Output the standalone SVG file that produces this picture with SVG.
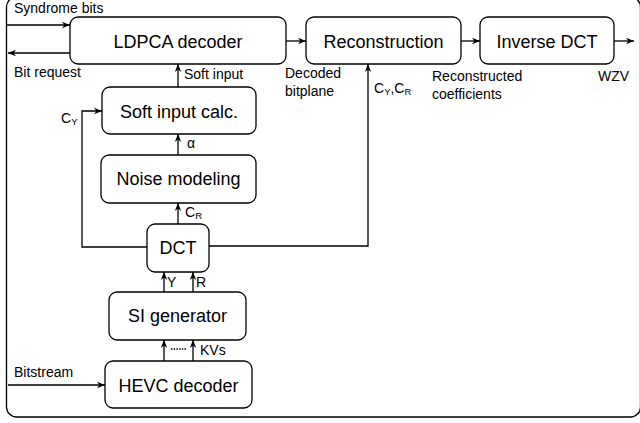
<svg xmlns="http://www.w3.org/2000/svg" width="640" height="423" viewBox="0 0 640 423">
<style>
.box{fill:#fff;stroke:#000;stroke-width:1.3}
.bt{font-family:"Liberation Sans",Arial,sans-serif;font-size:18px;text-anchor:middle;fill:#000}
.lb{font-family:"Liberation Sans",Arial,sans-serif;font-size:14px;fill:#000}
.sub{font-size:9.5px}
.ln{fill:none;stroke:#000;stroke-width:1.3}
</style>
<defs>
<marker id="ah" viewBox="0 0 10 10" refX="10" refY="5" markerWidth="8" markerHeight="8" markerUnits="userSpaceOnUse" orient="auto">
<path d="M0,1 L10,5 L0,9 L3,5 z" fill="#000"/>
</marker>
</defs>
<rect width="640" height="423" fill="#fff"/>
<rect x="6.5" y="-3" width="634" height="420" rx="10" class="ln"/>
<g id="connectors">
<line x1="7" y1="25" x2="70" y2="25" class="ln" marker-end="url(#ah)"/>
<line x1="70" y1="53" x2="8" y2="53" class="ln" marker-end="url(#ah)"/>
<line x1="286" y1="41" x2="306" y2="41" class="ln" marker-end="url(#ah)"/>
<line x1="461" y1="41" x2="480" y2="41" class="ln" marker-end="url(#ah)"/>
<line x1="614" y1="41" x2="634" y2="41" class="ln" marker-end="url(#ah)"/>
<line x1="178" y1="87" x2="178" y2="64" class="ln" marker-end="url(#ah)"/>
<line x1="178" y1="155" x2="178" y2="134" class="ln" marker-end="url(#ah)"/>
<line x1="178" y1="224" x2="178" y2="203" class="ln" marker-end="url(#ah)"/>
<polyline points="147,247 82,247 82,111 102,111" class="ln" marker-end="url(#ah)"/>
<polyline points="209,246 368,246 368,64" class="ln" marker-end="url(#ah)"/>
<line x1="164" y1="292" x2="164" y2="272" class="ln" marker-end="url(#ah)"/>
<line x1="193" y1="292" x2="193" y2="272" class="ln" marker-end="url(#ah)"/>
<line x1="164" y1="361" x2="164" y2="340" class="ln" marker-end="url(#ah)"/>
<line x1="193" y1="361" x2="193" y2="340" class="ln" marker-end="url(#ah)"/>
<line x1="171" y1="349" x2="187" y2="349" stroke="#000" stroke-width="1.3" stroke-dasharray="1.5,1.2"/>
<line x1="8" y1="385" x2="105" y2="385" class="ln" marker-end="url(#ah)"/>
</g>
<g id="ldpca"><rect x="70" y="17" width="216" height="47" rx="8" class="box"/><text x="178" y="48" class="bt">LDPCA decoder</text></g>
<g id="reconstruction"><rect x="306" y="17" width="155" height="47" rx="8" class="box"/><text x="383.5" y="48" class="bt">Reconstruction</text></g>
<g id="idct"><rect x="480" y="17" width="134" height="47" rx="8" class="box"/><text x="547" y="48" class="bt">Inverse DCT</text></g>
<g id="softinput"><rect x="102" y="87" width="154" height="47" rx="8" class="box"/><text x="179" y="118" class="bt">Soft input calc.</text></g>
<g id="noise"><rect x="101" y="155" width="155" height="48" rx="8" class="box"/><text x="178.5" y="185" class="bt">Noise modeling</text></g>
<g id="dct"><rect x="147" y="224" width="62" height="48" rx="8" class="box"/><text x="178" y="254" class="bt">DCT</text></g>
<g id="sigen"><rect x="109" y="292" width="137" height="48" rx="8" class="box"/><text x="177.5" y="322" class="bt">SI generator</text></g>
<g id="hevc"><rect x="105" y="361" width="147" height="47" rx="8" class="box"/><text x="178.5" y="392" class="bt">HEVC decoder</text></g>
<g id="labels">
<text x="14" y="13" class="lb">Syndrome bits</text>
<text x="14" y="77" class="lb">Bit request</text>
<text x="184" y="79" class="lb">Soft input</text>
<text x="285" y="78" class="lb">Decoded</text>
<text x="285" y="96" class="lb">bitplane</text>
<text x="432" y="81" class="lb">Reconstructed</text>
<text x="432" y="99" class="lb">coefficients</text>
<text x="598" y="81" class="lb">WZV</text>
<text x="374" y="93" class="lb">C<tspan class="sub" dy="2">Y</tspan><tspan dy="-2">,C</tspan><tspan class="sub" dy="2">R</tspan></text>
<text x="61" y="123" class="lb">C<tspan class="sub" dy="2">Y</tspan></text>
<text x="187" y="148" class="lb">α</text>
<text x="185" y="217" class="lb">C<tspan class="sub" dy="2">R</tspan></text>
<text x="167" y="287" class="lb">Y</text>
<text x="196" y="287" class="lb">R</text>
<text x="200" y="355" class="lb">KVs</text>
<text x="14" y="377" class="lb">Bitstream</text>
</g>
</svg>
